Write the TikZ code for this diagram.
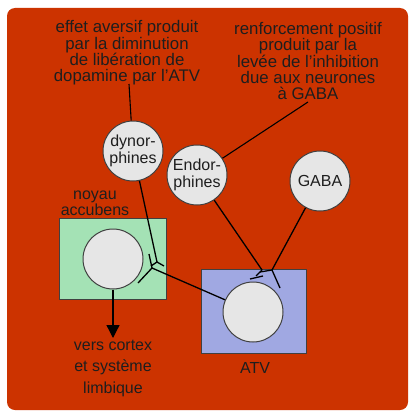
\documentclass[tikz,border=0pt]{standalone}
\usepackage{fontspec}
\setmainfont{Liberation Sans}
\usetikzlibrary{arrows.meta}
\definecolor{bgred}{HTML}{CC3300}
\definecolor{boxgreen}{HTML}{A4E2B5}
\definecolor{boxblue}{HTML}{A0A8E2}
\definecolor{cellfill}{HTML}{E6E6E6}
\definecolor{ink}{HTML}{1E1E1E}
\tikzset{
  cell/.style={circle, draw=ink!85, line width=1pt, fill=cellfill, minimum size=60pt, inner sep=0pt, align=center, text=ink, font=\fontsize{16}{16.5}\selectfont},
  region/.style={draw=ink!85, line width=1pt},
  lbl/.style={align=center, text=ink, inner sep=0pt, font=\fontsize{16}{16.4}\selectfont},
  head/.style={lbl, font=\fontsize{16.8}{16.4}\selectfont},
  axon/.style={draw=black, line width=1.3pt},
}
\begin{document}
\begin{tikzpicture}[x=1pt,y=-1pt]
\useasboundingbox (0,0) rectangle (409,412);
\fill[bgred, rounded corners=8pt] (7,8) rectangle (408,410);

% regions
\draw[region, fill=boxgreen] (59,218) rectangle (166,299);
\draw[region, fill=boxblue] (201,269) rectangle (306,353);

% labels
\node[head] (t1) at (127,53) {effet aversif produit\\par la diminution\\de libération de\\dopamine par l'ATV};
\node[head] (t2) at (308,61) {renforcement positif\\produit par la\\levée de l'inhibition\\due aux neurones\\à GABA};
\node[lbl] (nacc) at (95,203) {noyau\\accubens};
\node[lbl, font=\fontsize{16}{21.5}\selectfont] (vers) at (113,368) {vers cortex\\et système\\limbique};
\node[lbl] (atvl) at (255,368) {ATV};

% cells
\node[cell] (dyn) at (133,151) {dynor-\\phines};
\node[cell] (endo) at (197,175) {Endor-\\phines};
\node[cell] (gaba) at (320,181) {GABA};
\node[cell] (nac) at (113,259) {};
\node[cell] (atv) at (253,312) {};

% coordinates
\coordinate (t1end) at (129,84);
\coordinate (t2end) at (308,102);
\coordinate (dynend) at (157,262);
\coordinate (dynb1) at (151,266);
\coordinate (dynb2) at (164,266);
\coordinate (atvend) at (152,268);
\coordinate (atvb1) at (149,254);
\coordinate (atvb2) at (138,283);
\coordinate (endend) at (262,270);
\coordinate (endb1) at (256,276);
\coordinate (barA) at (250,279);
\coordinate (barB) at (263,276);
\coordinate (gabend) at (272,270);
\coordinate (gabb1) at (260,272);
\coordinate (gabb2) at (280,288);
\coordinate (outend) at (113,338);

% connectors
\draw[axon, line width=1.1pt] (t1end) -- (dyn);
\draw[axon, line width=1.1pt] (t2end) -- (endo);
\draw[axon] (dyn) -- (dynend);
\draw[axon] (dynend) -- (dynb1);
\draw[axon] (dynend) -- (dynb2);
\draw[axon] (atv) -- (atvend);
\draw[axon] (atvend) -- (atvb1);
\draw[axon] (atvend) -- (atvb2);
\draw[axon] (endo) -- (endend);
\draw[axon] (endend) -- (endb1);
\draw[axon] (barA) -- (barB);
\draw[axon] (gaba) -- (gabend);
\draw[axon] (gabend) -- (gabb1);
\draw[axon] (gabend) -- (gabb2);
\draw[axon, -{Triangle[width=13pt,length=13pt]}] (nac) -- (outend);
\end{tikzpicture}
\end{document}
